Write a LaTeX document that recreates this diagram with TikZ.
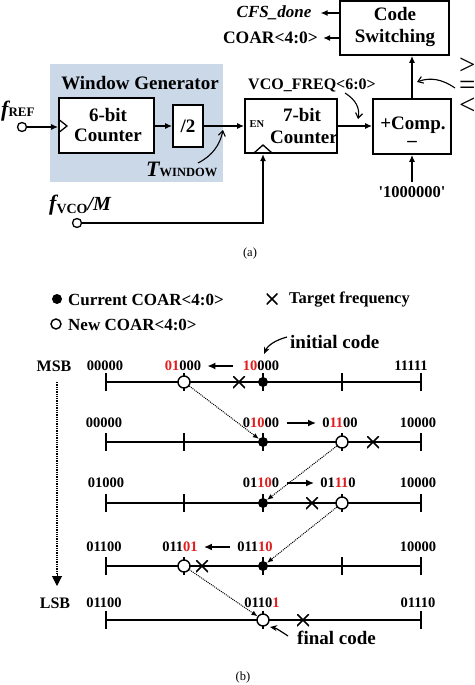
\documentclass[tikz,border=0pt]{standalone}
\usepackage{fontspec}
\setmainfont{Liberation Serif}
\usetikzlibrary{arrows.meta,calc}
\definecolor{wgbg}{RGB}{203,216,232}
\definecolor{cred}{RGB}{225,30,30}
\newcommand{\fs}[1]{\fontsize{#1}{#1}\selectfont}
\begin{document}
\begin{tikzpicture}[x=1pt,y=-1pt,
  blk/.style={draw, line width=1.6pt, fill=white, inner sep=0pt},
  txt/.style={font=\bfseries\fs{19}, inner sep=0pt, align=center},
  mid/.style={font=\bfseries\fs{16.5}, inner sep=0pt},
  num/.style={font=\bfseries\fs{14.5}, inner sep=0pt},
  arr/.style={line width=1.5pt, -{Latex[length=7pt,width=6pt]}},
  sarr/.style={line width=1.6pt, -{Latex[length=8pt,width=7pt]}},
  thin/.style={line width=1.1pt, -{Straight Barb[length=5pt,width=7pt]}},
  dotarr/.style={line width=1pt, densely dotted, -{Latex[length=6pt,width=5pt]}},
  term/.style={circle, draw, line width=1.3pt, minimum size=9pt, inner sep=0pt, fill=white},
  nline/.style={line width=1.6pt},
  curdot/.style={circle, fill=black, minimum size=10pt, inner sep=0pt},
  newdot/.style={circle, draw, line width=1.4pt, fill=white, minimum size=12pt, inner sep=0pt},
  xmark/.style={draw=none, inner sep=0pt, minimum size=12pt,
     path picture={\draw[line width=1.5pt] (path picture bounding box.north west) -- (path picture bounding box.south east)
                    (path picture bounding box.north east) -- (path picture bounding box.south west);}},
]
\useasboundingbox (0,0) rectangle (474,685);

% ---------------- (a) ----------------
\fill[wgbg] (50,64) rectangle (223,182);
\node[txt] (wgt) at (140,83) {Window Generator};

\node[blk, minimum width=109pt, minimum height=54pt] (codesw) at (394.5,28) {};
\node[txt] (codeswt) at (395,27) {Code\\[3pt]Switching};

\node[blk, minimum width=95pt, minimum height=55pt] (cnt6) at (106.5,125.5) {};
\node[txt] (cnt6t) at (108,125) {6-bit\\[1pt]Counter};
\node[blk, minimum width=30pt, minimum height=42pt] (div2) at (188,126) {};
\node[txt] (div2t) at (188,126) {/2};

\node[blk, minimum width=92pt, minimum height=54pt] (cnt7) at (291,126) {};
\node[txt] (cnt7a) at (302,115) {7-bit};
\node[txt] (cnt7b) at (304,137) {Counter};
\node[font=\bfseries\fs{10.5}, inner sep=0pt] (en) at (257,124) {EN};

\node[blk, minimum width=78pt, minimum height=55pt] (comp) at (412,126.5) {};
\node[txt] (compt) at (413,125) {+Comp.};
\node[txt] (minus) at (412,144) {\textendash};

% clock triangles
\draw[line width=1.3pt] (cnt6.west |- 0,119) -- (67,126) -- (cnt6.west |- 0,133);
\draw[line width=1.3pt] (254,153) -- (263,145) -- (272,153);

% terminals and inputs
\node[term] (fref) at (22,127) {};
\node[inner sep=0pt, anchor=base west] (freft) at (1,116) {\bfseries\itshape\fs{22}f\fs{13}\upshape REF};
\node[term] (fvco) at (77,223) {};
\node[inner sep=0pt, anchor=base west] (fvcot) at (49,210) {\bfseries\itshape\fs{22}f\upshape\fs{14}\raisebox{-3pt}{VCO}\itshape\fs{20}/M};
\coordinate (clk7) at (263,154);

\draw[arr] (fref.east) -- (fref -| cnt6.west);
\draw[arr] (cnt6.east |- div2) -- (div2.west);
\draw[arr] (div2.east) -- (div2 -| cnt7.west);
\draw[arr] (cnt7.east |- 0,126) -- (comp.west |- 0,126);
\draw[arr] (fvco.east) -| (clk7);
\draw[arr] (comp.north) -- (comp.north |- codesw.south);

\node[mid] (ref) at (412,192) {\textquotesingle1000000\textquotesingle};
\draw[arr] (ref.north) ++(0,-4) -- (comp.south);

% outputs
\node[font=\bfseries\itshape\fs{17}, inner sep=0pt] (cfs) at (274,13) {CFS\_done};
\node[font=\bfseries\fs{17.5}, inner sep=0pt] (coar) at (270.5,38) {COAR<4:0>};
\draw[arr] (codesw.west |- cfs) -- ([xshift=9pt]cfs.east);
\draw[arr] (codesw.west |- coar) -- ([xshift=5pt]coar.east);

% labels with curved arrows
\node[inner sep=0pt, anchor=base west] (tw) at (146,176) {\bfseries\itshape\fs{22}T\upshape\fs{12.5}WINDOW};
\coordinate (twtip) at (223,130);
\draw[thin] (198,163) .. controls (212,156) and (220,145) .. (twtip);

\node[font=\bfseries\fs{16}, inner sep=0pt] (vcof) at (312,85) {VCO\_FREQ<6:0>};
\coordinate (vftip) at (358,119);
\draw[thin] (345,93) .. controls (356,100) and (360,108) .. (vftip);

\coordinate (cmptip) at (417,82);
\draw[thin] (455,88) .. controls (442,79) and (430,77) .. (cmptip);
\node[font=\fs{29}, inner sep=0pt, align=left, anchor=west] (cmpsyms) at (459,86)
  {>\\[-9pt]=\\[-9pt]<};

\node[font=\fs{12.5}, inner sep=0pt] (capa) at (250,253) {(a)};

% ---------------- (b) ----------------
\node[curdot] (lgcur) at (57,299) {};
\node[font=\bfseries\fs{17}, inner sep=0pt, anchor=west] (lgcurt) at (68,300) {Current COAR<4:0>};
\node[xmark, minimum size=11pt] (lgx) at (272,299) {};
\node[font=\bfseries\fs{16.5}, inner sep=0pt, anchor=west] (lgxt) at (289,300) {Target frequency};
\node[circle, draw, line width=1.4pt, minimum size=10pt, inner sep=0pt] (lgnew) at (56,324) {};
\node[font=\bfseries\fs{17}, inner sep=0pt, anchor=west] (lgnewt) at (68,325) {New COAR<4:0>};

\node[font=\bfseries\fs{16}, inner sep=0pt] (msb) at (54,366) {MSB};
\node[font=\bfseries\fs{16}, inner sep=0pt] (lsb) at (55,603) {LSB};
\draw[line width=1.3pt, densely dotted] (57,382) -- (57,574);
\draw[line width=1pt, -{Triangle[length=10pt,width=10pt]}] (57,574) -- (57,586);

% number lines
\foreach \y in {382,442,503,566,620} {
  \draw[nline] (106,\y) -- (421,\y);
  \draw[nline] (106,\y-9) -- (106,\y+9);
  \draw[nline] (421,\y-9) -- (421,\y+9);
}
% interior ticks
\foreach \x/\y in {184/382,263/382,342/382,
                   184/442,263/442,342/442,
                   184/503,263/503,342/503,
                   184/566,263/566,342/566,
                   263/620} {
  \draw[nline] (\x,\y-9) -- (\x,\y+9);
}

% row 1
\node[num] (r1a) at (105,366) {00000};
\node[num] (r1b) at (183,366) {\color{cred}01\color{black}000};
\node[num] (r1c) at (261,366) {\color{cred}10\color{black}000};
\node[num] (r1d) at (411,366) {11111};
\draw[sarr] ([xshift=-10pt]r1c.west) -- ([xshift=6pt]r1b.east);
\node[newdot] (r1new) at (184,382) {};
\node[xmark] (r1x) at (239,382) {};
\node[curdot] (r1cur) at (263,382) {};
\node[font=\bfseries\fs{19}, inner sep=0pt, anchor=west] (init) at (290,342) {initial code};
\draw[line width=1.2pt, -{Stealth[length=7pt,width=6pt]}] (287,337) .. controls (276,340) and (268,345) .. (264,354);

% row 2
\node[num] (r2a) at (104,423) {00000};
\node[num] (r2b) at (261,423) {0\color{cred}10\color{black}00};
\node[num] (r2c) at (340,423) {0\color{cred}11\color{black}00};
\node[num] (r2d) at (418,423) {10000};
\draw[sarr] ([xshift=8pt]r2b.east) -- ([xshift=-6pt]r2c.west);
\node[curdot] (r2cur) at (263,442) {};
\node[newdot] (r2new) at (342,442) {};
\node[xmark] (r2x) at (373,442) {};

% row 3
\node[num] (r3a) at (106,483) {01000};
\node[num] (r3b) at (261,483) {01\color{cred}10\color{black}0};
\node[num] (r3c) at (338,483) {01\color{cred}11\color{black}0};
\node[num] (r3d) at (418,483) {10000};
\draw[sarr] ([xshift=8pt]r3b.east) -- ([xshift=-6pt]r3c.west);
\node[curdot] (r3cur) at (263,503) {};
\node[xmark] (r3x) at (312,503) {};
\node[newdot] (r3new) at (342,503) {};

% row 4
\node[num] (r4a) at (104,547) {01100};
\node[num] (r4b) at (180,547) {011\color{cred}01};
\node[num] (r4c) at (255,547) {011\color{cred}10};
\node[num] (r4d) at (418,547) {10000};
\draw[sarr] ([xshift=-7pt]r4c.west) -- ([xshift=6pt]r4b.east);
\node[newdot] (r4new) at (184,566) {};
\node[xmark] (r4x) at (202,566) {};
\node[curdot] (r4cur) at (263,566) {};

% row 5
\node[num] (r5a) at (104,603) {01100};
\node[num] (r5b) at (262,603) {0110\color{cred}1};
\node[num] (r5c) at (418,603) {01110};
\node[newdot] (r5new) at (263,620) {};
\node[xmark] (r5x) at (303,620) {};
\node[font=\bfseries\fs{19}, inner sep=0pt, anchor=west] (fin) at (297,638) {final code};
\draw[line width=1.2pt, -{Stealth[length=7pt,width=6pt]}] (288,636) .. controls (282,632) and (276,628) .. (270,627);

% dotted transitions
\draw[dotarr] (r1new) -- (r2cur);
\draw[dotarr] (r2new) -- (r3cur);
\draw[dotarr] (r3new) -- (r4cur);
\draw[dotarr] (r4new) -- (r5new);

\node[font=\fs{12.5}, inner sep=0pt] (capb) at (243,677) {(b)};
\end{tikzpicture}
\end{document}
